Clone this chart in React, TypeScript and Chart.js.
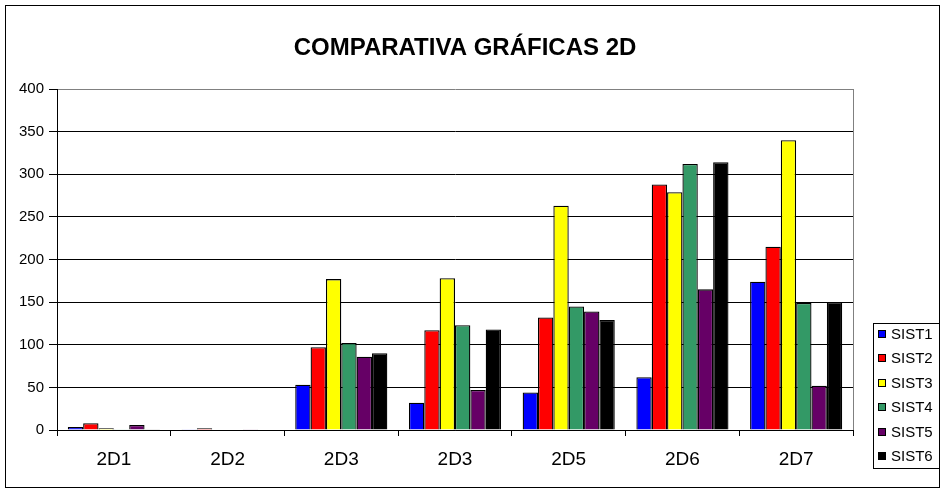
import { useRef, useEffect } from "react";
import { Chart, registerables } from "chart.js";
import type { Plugin } from "chart.js";

Chart.register(...registerables);

const CATEGORIES = ["2D1", "2D2", "2D3", "2D3", "2D5", "2D6", "2D7"];
const SERIES_NAMES = ["SIST1", "SIST2", "SIST3", "SIST4", "SIST5", "SIST6"];
const SIST1 = [3.5, 1, 53, 32, 44, 62, 174];
const SIST2 = [8, 2, 97, 117, 132, 288, 215];
const SIST3 = [2, 0, 177, 178, 263, 279, 340];
const SIST4 = [1, 0, 102, 123, 145, 312, 149];
const SIST5 = [6, 1, 86, 47, 139, 165, 52];
const SIST6 = [1, 0, 90, 118, 129, 314, 150];
const Y_TICKS = [0, 50, 100, 150, 200, 250, 300, 350, 400];
const TITLE = "COMPARATIVA GRÁFICAS 2D";

const COLORS = ["#0000ff", "#ff0000", "#ffff00", "#339966", "#660066", "#000000"];

// outer frame, title, gray plot border and the boxed legend
const excelFrame: Plugin<"bar"> = {
  id: "excelFrame",
  beforeDraw(chart) {
    const { ctx, width, height } = chart;
    ctx.save();
    ctx.fillStyle = "#ffffff";
    ctx.fillRect(0, 0, width, height);
    ctx.restore();
  },
  afterDraw(chart) {
    const { ctx, chartArea } = chart;
    ctx.save();
    ctx.lineWidth = 1;
    ctx.strokeStyle = "#000000";
    ctx.strokeRect(5.5, 5.5, 934, 482);

    ctx.strokeStyle = "#808080";
    ctx.beginPath();
    ctx.moveTo(Math.round(chartArea.right) + 0.5, chartArea.top);
    ctx.lineTo(Math.round(chartArea.right) + 0.5, chartArea.bottom);
    ctx.stroke();

    ctx.fillStyle = "#000000";
    ctx.font = "bold 24px Arial";
    ctx.textAlign = "center";
    ctx.textBaseline = "middle";
    ctx.fillText(TITLE, 465, 48);

    // legend
    const lx = 873, ly = 323, lw = 66, lh = 145;
    ctx.fillStyle = "#ffffff";
    ctx.fillRect(lx, ly, lw, lh);
    ctx.strokeStyle = "#000000";
    ctx.strokeRect(lx + 0.5, ly + 0.5, lw, lh);
    ctx.font = "15px Arial";
    ctx.textAlign = "left";
    chart.data.datasets.forEach((ds, i) => {
      const cy = Math.round(334 + i * 24.4);
      ctx.fillStyle = ds.backgroundColor as string;
      ctx.fillRect(878, cy - 4, 8, 8);
      ctx.strokeStyle = "#000000";
      ctx.strokeRect(878.5, cy - 3.5, 7, 7);
      ctx.fillStyle = "#000000";
      ctx.fillText(ds.label || "", 891, cy + 1);
    });
    ctx.restore();
  },
};

export default function App() {
  const canvasRef = useRef<HTMLCanvasElement>(null);
  const chartRef = useRef<Chart<"bar"> | null>(null);

  useEffect(() => {
    document.body.style.margin = "0";
    if (!canvasRef.current) return;
    if (chartRef.current) chartRef.current.destroy();

    const values = [SIST1, SIST2, SIST3, SIST4, SIST5, SIST6];
    const datasets = SERIES_NAMES.map((name, i) => ({
      label: name,
      data: values[i],
      backgroundColor: COLORS[i],
      borderColor: "#000000",
      borderWidth: 1.3,
      barPercentage: 1,
      categoryPercentage: 0.81,
    }));

    chartRef.current = new Chart(canvasRef.current, {
      type: "bar",
      data: { labels: CATEGORIES, datasets },
      plugins: [excelFrame],
      options: {
        responsive: true,
        maintainAspectRatio: false,
        animation: false,
        layout: { padding: { left: 0, top: 89, right: 94, bottom: 0 } },
        plugins: {
          legend: { display: false },
          title: { display: false },
          tooltip: { enabled: false },
        },
        scales: {
          x: {
            afterFit: (scale) => {
              scale.height = 63;
            },
            grid: {
              offset: true,
              drawOnChartArea: false,
              drawTicks: true,
              tickLength: 6,
              color: "#000000",
            },
            border: { display: true, color: "#000000", width: 1 },
            ticks: {
              color: "#000000",
              font: { family: "Arial", size: 19 },
              padding: 12,
              maxRotation: 0,
            },
          },
          y: {
            min: 0,
            max: 400,
            afterFit: (scale) => {
              scale.width = 57;
            },
            afterBuildTicks: (scale) => {
              scale.ticks = Y_TICKS.map((v) => ({ value: v }));
            },
            grid: {
              color: (c) => (c.tick && c.tick.value === 400 ? "#808080" : "#000000"),
              tickColor: "#000000",
              tickLength: 8,
              lineWidth: 1,
            },
            border: { display: true, color: "#000000", width: 1 },
            ticks: {
              color: "#000000",
              font: { family: "Arial", size: 15 },
              padding: 5,
            },
          },
        },
      },
    });

    return () => {
      chartRef.current?.destroy();
      chartRef.current = null;
    };
  }, []);

  return (
    <div style={{ position: "fixed", left: 0, top: 0, width: 947, height: 493 }}>
      <canvas ref={canvasRef} />
    </div>
  );
}
